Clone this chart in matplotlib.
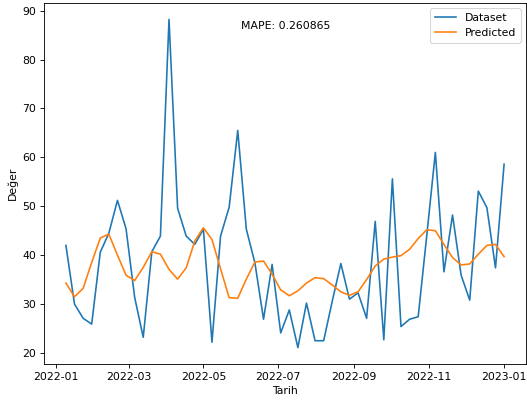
import numpy as np
import pandas as pd
import matplotlib
matplotlib.use("Agg")
import matplotlib.pyplot as plt

# Weekly series, first Sunday of 2022 through 2023-01-01
dates = pd.date_range("2022-01-09", "2023-01-01", freq="W-SUN")

dataset = [42.0, 30.0, 27.1, 25.9, 40.6, 44.5, 51.2, 45.4, 31.4, 23.2,
           40.7, 43.9, 88.2, 49.6, 43.9, 42.2, 45.3, 22.2, 43.9, 49.8,
           65.5, 45.3, 38.4, 26.9, 38.1, 24.1, 28.8, 21.1, 30.2, 22.5,
           22.5, 30.6, 38.3, 31.0, 32.3, 27.1, 46.9, 22.7, 55.6, 25.4,
           26.9, 27.4, 44.0, 61.0, 36.6, 48.2, 35.9, 30.8, 53.1, 49.7,
           37.4, 58.6]

predicted = [34.3, 31.5, 33.2, 38.5, 43.5, 44.3, 40.0, 35.9, 34.8, 37.5,
             40.7, 40.2, 37.1, 35.1, 37.4, 42.9, 45.6, 43.2, 37.2, 31.3,
             31.2, 35.1, 38.6, 38.8, 36.1, 32.9, 31.7, 32.7, 34.3, 35.4,
             35.2, 33.9, 32.5, 31.8, 32.5, 35.0, 37.8, 39.2, 39.6, 39.9,
             41.2, 43.4, 45.2, 45.0, 42.2, 39.5, 38.0, 38.2, 40.2, 42.0,
             42.2, 39.7]

mape = 0.260865

dpi = 78
fig = plt.figure(figsize=(527/dpi, 405/dpi), dpi=dpi)
ax = fig.add_axes([44/527, 41/405, 482/527, 361/405])

ax.plot(dates, dataset, label="Dataset")
ax.plot(dates, predicted, label="Predicted")

ax.text(0.502, 0.936, f"MAPE: {mape:.6f}", transform=ax.transAxes,
        ha="center", va="center")
ax.set_xlabel("Tarih")
ax.set_ylabel("Değer")
ax.legend(loc="upper right")

fig.savefig("out.png", dpi=dpi)
